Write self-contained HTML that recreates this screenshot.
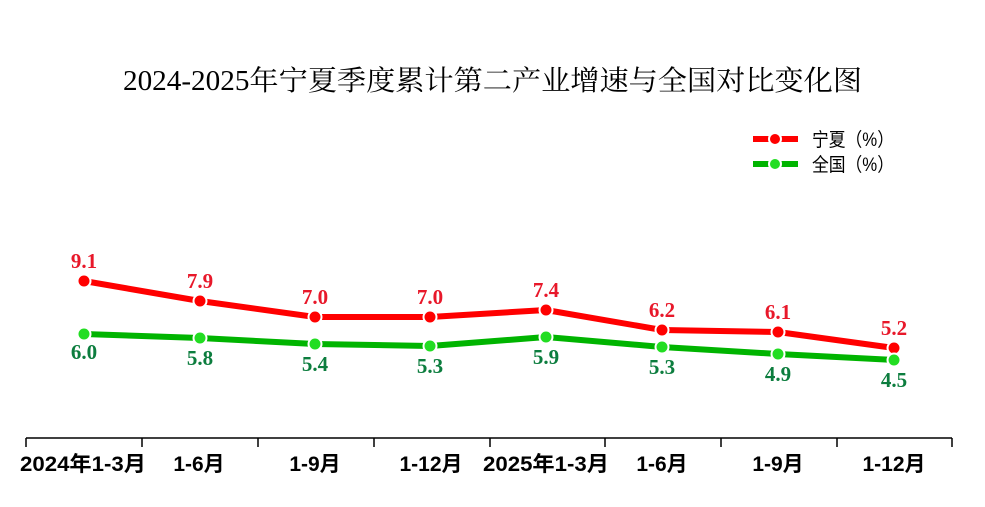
<!DOCTYPE html>
<html><head><meta charset="utf-8"><style>
html,body{margin:0;padding:0;background:#fff;}
svg{display:block;}
</style></head><body>
<svg width="985" height="507" viewBox="0 0 985 507" xmlns="http://www.w3.org/2000/svg">
<text x="123" y="90" textLength="739" lengthAdjust="spacingAndGlyphs" font-family="Liberation Serif, Noto Serif CJK SC, serif" font-size="28" fill="#000">2024-2025年宁夏季度累计第二产业增速与全国对比变化图</text>
<!-- legend -->
<line x1="753" y1="139" x2="798" y2="139" stroke="#ff0000" stroke-width="6"/>
<circle cx="775" cy="139" r="6" fill="#ff0000" stroke="#fff" stroke-width="2"/>
<text x="812" y="146" textLength="82" lengthAdjust="spacingAndGlyphs" font-family="Liberation Sans, Noto Sans CJK SC, sans-serif" font-size="19" fill="#000">宁夏（%）</text>
<line x1="753" y1="164" x2="798" y2="164" stroke="#00b400" stroke-width="6"/>
<circle cx="775" cy="164" r="6" fill="#22dd22" stroke="#fff" stroke-width="2"/>
<text x="812" y="171" textLength="82" lengthAdjust="spacingAndGlyphs" font-family="Liberation Sans, Noto Sans CJK SC, sans-serif" font-size="19" fill="#000">全国（%）</text>
<!-- lines -->
<polyline points="84,281 200,301 315,317 430,317 546,310 662,330 778,332 894,348" fill="none" stroke="#ff0000" stroke-width="6" stroke-linejoin="round"/>
<polyline points="84,334 200,338 315,344 430,346 546,337 662,347 778,354 894,360" fill="none" stroke="#00b400" stroke-width="6" stroke-linejoin="round"/>
<g fill="#ff0000" stroke="#fff" stroke-width="2">
<circle cx="84" cy="281" r="6.5"/><circle cx="200" cy="301" r="6.5"/><circle cx="315" cy="317" r="6.5"/><circle cx="430" cy="317" r="6.5"/><circle cx="546" cy="310" r="6.5"/><circle cx="662" cy="330" r="6.5"/><circle cx="778" cy="332" r="6.5"/><circle cx="894" cy="348" r="6.5"/>
</g>
<g fill="#22dd22" stroke="#fff" stroke-width="2">
<circle cx="84" cy="334" r="6.5"/><circle cx="200" cy="338" r="6.5"/><circle cx="315" cy="344" r="6.5"/><circle cx="430" cy="346" r="6.5"/><circle cx="546" cy="337" r="6.5"/><circle cx="662" cy="347" r="6.5"/><circle cx="778" cy="354" r="6.5"/><circle cx="894" cy="360" r="6.5"/>
</g>
<g font-family="Liberation Serif, serif" font-weight="bold" font-size="21" fill="#e8182a" text-anchor="middle">
<text x="84" y="268">9.1</text><text x="200" y="288">7.9</text><text x="315" y="304">7.0</text><text x="430" y="304">7.0</text><text x="546" y="297">7.4</text><text x="662" y="317">6.2</text><text x="778" y="319">6.1</text><text x="894" y="335">5.2</text>
</g>
<g font-family="Liberation Serif, serif" font-weight="bold" font-size="21" fill="#0c7d3e" text-anchor="middle">
<text x="84" y="359">6.0</text><text x="200" y="365">5.8</text><text x="315" y="371">5.4</text><text x="430" y="373">5.3</text><text x="546" y="364">5.9</text><text x="662" y="374">5.3</text><text x="778" y="381">4.9</text><text x="894" y="387">4.5</text>
</g>
<!-- axis -->
<g stroke="#000" stroke-width="1.5">
<line x1="26" y1="438" x2="952" y2="438"/>
<line x1="26" y1="438" x2="26" y2="447"/><line x1="142" y1="438" x2="142" y2="447"/><line x1="258" y1="438" x2="258" y2="447"/><line x1="374" y1="438" x2="374" y2="447"/><line x1="490" y1="438" x2="490" y2="447"/><line x1="605" y1="438" x2="605" y2="447"/><line x1="721" y1="438" x2="721" y2="447"/><line x1="837" y1="438" x2="837" y2="447"/><line x1="952" y1="438" x2="952" y2="447"/>
</g>
<g font-family="Liberation Sans, Noto Sans CJK SC, sans-serif" font-weight="bold" font-size="21" fill="#000" text-anchor="middle">
<text x="83" y="471" textLength="126" lengthAdjust="spacingAndGlyphs">2024年1-3月</text><text x="199" y="471">1-6月</text><text x="315" y="471">1-9月</text><text x="431" y="471">1-12月</text><text x="546" y="471" textLength="126" lengthAdjust="spacingAndGlyphs">2025年1-3月</text><text x="662" y="471">1-6月</text><text x="778" y="471">1-9月</text><text x="894" y="471">1-12月</text>
</g>
</svg>
</body></html>
